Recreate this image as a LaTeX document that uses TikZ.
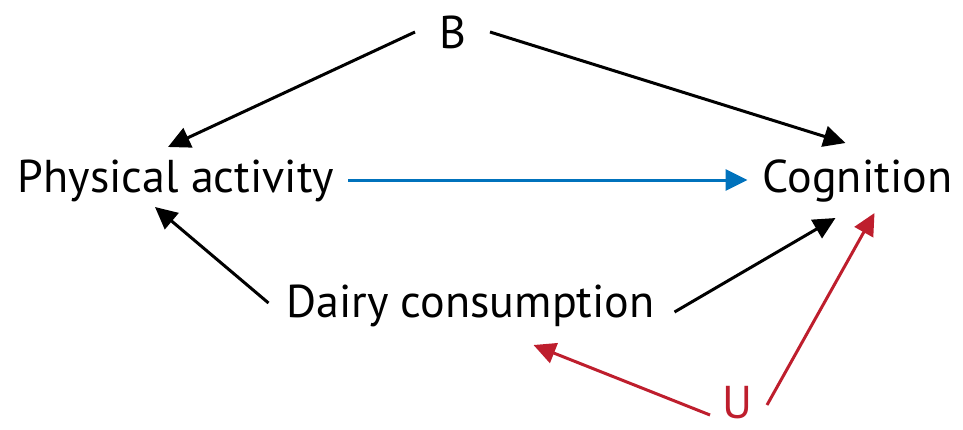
\documentclass[tikz,border=0pt]{standalone}
\usepackage{fontspec}
\setmainfont{PT Sans}
\usetikzlibrary{arrows.meta}
\definecolor{myblue}{RGB}{0,114,188}
\definecolor{myred}{RGB}{190,30,45}
\tikzset{
  lbl/.style={inner sep=0pt, font=\fontsize{46}{52}\selectfont},
  arr/.style={line width=3pt, -{Triangle[length=22pt,width=21pt]}},
}
\begin{document}
\begin{tikzpicture}[x=1pt,y=-1pt]
\useasboundingbox (0,0) rectangle (963,429);
\node[lbl] (B) at (453,32) {B};
\node[lbl] (PA) at (176,181) {Physical activity};
\node[lbl] (Cog) at (857.5,181) {Cognition};
\node[lbl] (DC) at (470.5,306) {Dairy consumption};
\node[lbl, text=myred] (U) at (737,403) {U};
\draw[arr] ([shift={(-38,0)}]B.center) -- ([shift={(-8,-34)}]PA.center);
\draw[arr] ([shift={(37,0)}]B.center) -- ([shift={(-12,-38)}]Cog.center);
\draw[arr, myblue] ([shift={(172,-1)}]PA.center) -- ([shift={(-110,-1)}]Cog.center);
\draw[arr] ([shift={(-202,-3)}]DC.center) -- ([shift={(-21,26)}]PA.center);
\draw[arr] ([shift={(204,6)}]DC.center) -- ([shift={(-22,37)}]Cog.center);
\draw[arr, myred] ([shift={(-27,12)}]U.center) -- ([shift={(63,39)}]DC.center);
\draw[arr, myred] ([shift={(30,2)}]U.center) -- ([shift={(17,32)}]Cog.center);
\end{tikzpicture}
\end{document}
